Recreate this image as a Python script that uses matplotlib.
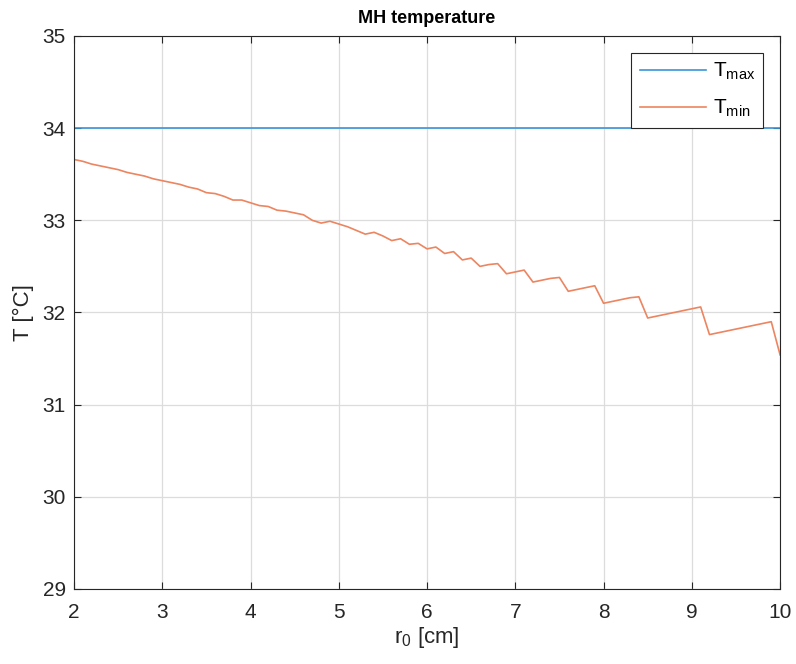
#!/usr/bin/env python3
"""MH temperature vs r0, MATLAB-style line chart."""

import matplotlib
matplotlib.use("Agg")
import matplotlib.pyplot as plt
import numpy as np

R0 = [round(2.0 + 0.1 * i, 1) for i in range(81)]
T_MAX = [34.0] * len(R0)
T_MIN = [
    33.66, 33.64, 33.61, 33.59, 33.57, 33.55, 33.52, 33.50, 33.48, 33.45,
    33.43, 33.41, 33.39, 33.36, 33.34, 33.30, 33.29, 33.26, 33.22, 33.22,
    33.19, 33.16, 33.15, 33.11, 33.10, 33.08, 33.06, 33.00, 32.97, 32.99,
    32.96, 32.93, 32.89, 32.85, 32.87, 32.83, 32.78, 32.80, 32.74, 32.75,
    32.69, 32.71, 32.64, 32.66, 32.57, 32.59, 32.50, 32.52, 32.53, 32.42,
    32.44, 32.46, 32.33, 32.35, 32.37, 32.38, 32.23, 32.25, 32.27, 32.29,
    32.10, 32.12, 32.14, 32.16, 32.17, 31.94, 31.96, 31.98, 32.00, 32.02,
    32.04, 32.06, 31.76, 31.78, 31.80, 31.82, 31.84, 31.86, 31.88, 31.90,
    31.54,
]
X_TICKS = [2, 3, 4, 5, 6, 7, 8, 9, 10]
Y_TICKS = [29, 30, 31, 32, 33, 34, 35]

plt.rcParams["font.family"] = ["Liberation Sans", "DejaVu Sans"]
plt.rcParams["mathtext.fontset"] = "custom"
plt.rcParams["mathtext.rm"] = "Liberation Sans"
plt.rcParams["mathtext.it"] = "Liberation Sans:italic"
plt.rcParams["mathtext.bf"] = "Liberation Sans:bold"

fig = plt.figure(figsize=(7.96, 6.64), dpi=100)
ax = fig.add_axes([0.093, 0.113, 0.887, 0.8328])

ax.plot(R0, T_MAX, color="#3a95d8", linewidth=1.2, label=r"T$_{\rm max}$")
ax.plot(R0, T_MIN, color="#ec8560", linewidth=1.2, label=r"T$_{\rm min}$")

ax.set_xlim(2, 10)
ax.set_ylim(29, 35)
ax.set_xticks(X_TICKS)
ax.set_yticks(Y_TICKS)
ax.tick_params(direction="in", length=5, width=0.8, colors="#262626",
               labelsize=15, top=True, right=True)
ax.tick_params(axis="x", pad=10)
ax.tick_params(axis="y", pad=6)
ax.grid(True, color="#dcdcdc", linewidth=0.9)
ax.set_axisbelow(True)
for sp in ax.spines.values():
    sp.set_color("#262626")
    sp.set_linewidth(0.8)

ax.set_title("MH temperature", fontsize=13, fontweight="bold", pad=9)
ax.set_xlabel(r"r$_{\rm 0}$ [cm]", fontsize=16, color="#262626", labelpad=2)
ax.set_ylabel("T [°C]", fontsize=16, color="#262626", labelpad=6)

leg = ax.legend(loc="upper right", fontsize=15, handlelength=3.2,
                handletextpad=0.3, labelspacing=0.75, borderpad=0.4,
                borderaxespad=0.8, fancybox=False, framealpha=1,
                edgecolor="#262626")
leg.get_frame().set_linewidth(0.8)

fig.savefig("out.png", dpi=100, facecolor="white")
